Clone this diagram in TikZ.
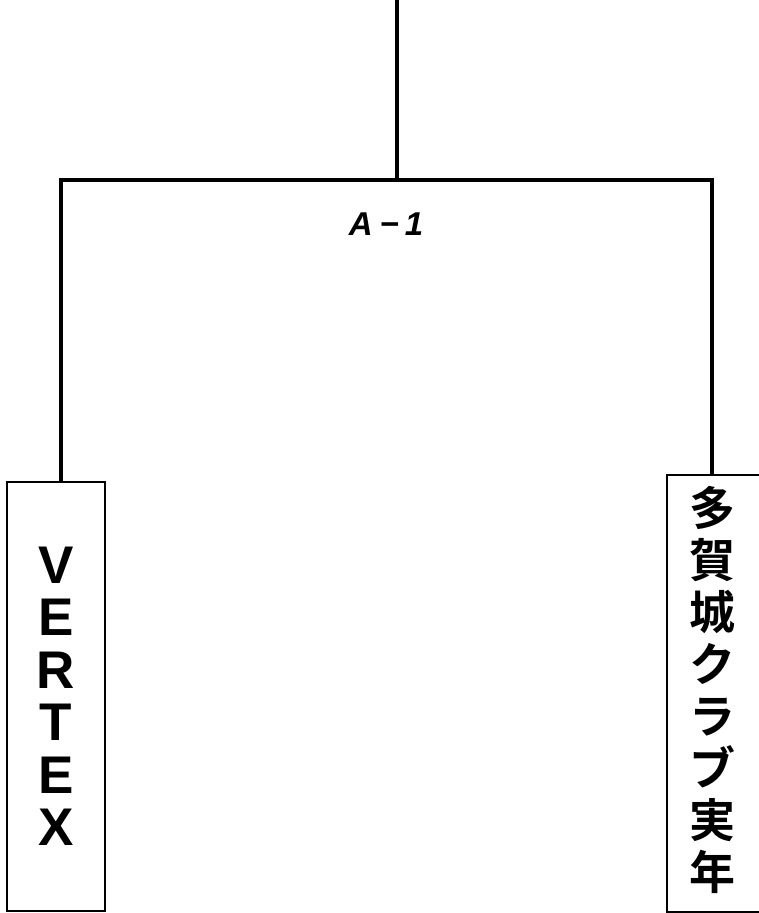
\documentclass[tikz,border=0pt]{standalone}
\usepackage{fontspec}
\setmainfont{Liberation Sans}
\newfontfamily\cjk{Noto Sans CJK JP Bold}
\begin{document}
\begin{tikzpicture}[x=1pt,y=-1pt,
  conn/.style={line width=4pt},
  teambox/.style={draw,line width=1.5pt,rectangle,inner sep=0pt,align=center},
  lbl/.style={font={\fontsize{33}{33}\selectfont\bfseries\itshape}}]
\useasboundingbox (0,0) rectangle (759,913);
\clip (0,0) rectangle (759,913);
\node[teambox,minimum width=98pt,minimum height=429pt,
  font={\fontsize{53}{52.5}\selectfont\bfseries}] (vtx) at (56,696.5)
  {V\\E\\R\\T\\E\\X};
\node[teambox,minimum width=110pt,minimum height=437pt] (tgj) at (722,693.5) {};
\node[align=center,inner sep=0pt,font={\cjk\fontsize{46}{52}\selectfont}]
  (tgjname) at (712,690) {多\\賀\\城\\ク\\ラ\\ブ\\実\\年};
\coordinate (top) at (397,0);
\coordinate (junc) at (397,180);
\draw[conn] (top) -- (junc);
\draw[conn] ([xshift=5pt]vtx.north) |- (junc) -| ([xshift=-10pt]tgj.north);
\node[lbl] (match) at (386,224) {A\hspace{7pt}−\hspace{6pt}1};
\end{tikzpicture}
\end{document}
